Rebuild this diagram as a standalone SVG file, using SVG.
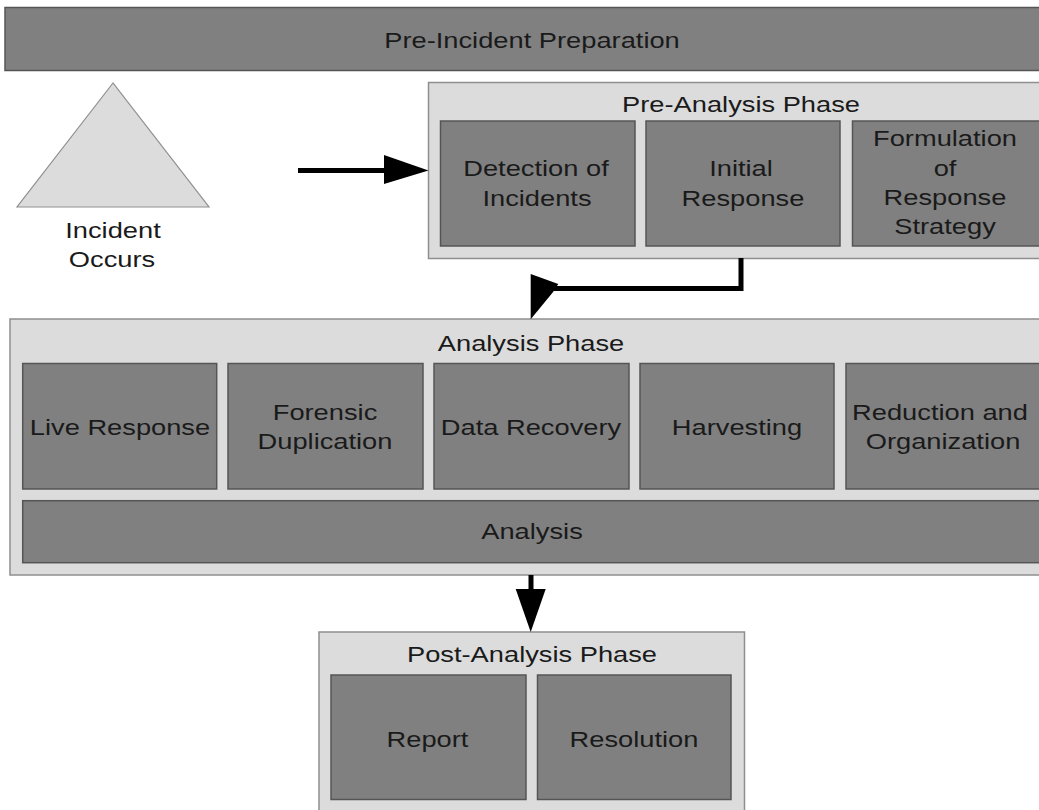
<svg xmlns="http://www.w3.org/2000/svg" width="1039" height="810" viewBox="0 0 1039 810">
  <style>
    .dark { fill: #808080; stroke: #555555; stroke-width: 1.5; }
    .light { fill: #dcdcdc; stroke: #8f8f8f; stroke-width: 1.5; }
    .t { font-family: "Liberation Sans", Arial, sans-serif; font-size: 22px; fill: #1a1a1a; text-anchor: middle; }
    .wire { fill: none; stroke: #000000; stroke-width: 5; stroke-linejoin: miter; }
    .head { fill: #000000; stroke: none; }
  </style>
  <rect width="1039" height="810" fill="#ffffff"/>

  <!-- top band -->
  <g id="pre-incident-preparation">
    <rect class="dark" x="5" y="7.5" width="1060" height="63"/>
    <text class="t" transform="translate(532,48) scale(1.24,1)">Pre-Incident Preparation</text>
  </g>

  <!-- incident marker -->
  <g id="incident-occurs">
    <polygon points="113,83 17,207 209,207" fill="#dcdcdc" stroke="#8f8f8f" stroke-width="1.2"/>
    <text class="t" transform="translate(113,238) scale(1.24,1)">Incident</text>
    <text class="t" transform="translate(112,267) scale(1.24,1)">Occurs</text>
  </g>

  <!-- pre-analysis phase -->
  <g id="pre-analysis-phase">
    <rect class="light" x="428.5" y="82.5" width="650" height="176"/>
    <text class="t" transform="translate(741,112) scale(1.24,1)">Pre-Analysis Phase</text>
  </g>
  <g id="detection-of-incidents">
    <rect class="dark" x="440.5" y="121" width="194.5" height="125"/>
    <text class="t" transform="translate(536,176) scale(1.24,1)">Detection of</text>
    <text class="t" transform="translate(537,206) scale(1.24,1)">Incidents</text>
  </g>
  <g id="initial-response">
    <rect class="dark" x="646" y="121" width="194" height="125"/>
    <text class="t" transform="translate(741,176) scale(1.24,1)">Initial</text>
    <text class="t" transform="translate(743,206) scale(1.24,1)">Response</text>
  </g>
  <g id="formulation-of-response-strategy">
    <rect class="dark" x="852.5" y="121" width="200" height="125"/>
    <text class="t" transform="translate(945,146) scale(1.24,1)">Formulation</text>
    <text class="t" transform="translate(945,175.5) scale(1.24,1)">of</text>
    <text class="t" transform="translate(945,205) scale(1.24,1)">Response</text>
    <text class="t" transform="translate(945,234) scale(1.24,1)">Strategy</text>
  </g>

  <!-- analysis phase -->
  <g id="analysis-phase">
    <rect class="light" x="10" y="319" width="1060" height="256"/>
    <text class="t" transform="translate(531,351) scale(1.24,1)">Analysis Phase</text>
  </g>
  <g id="live-response">
    <rect class="dark" x="22.7" y="363.5" width="194" height="125.5"/>
    <text class="t" transform="translate(120,435) scale(1.24,1)">Live Response</text>
  </g>
  <g id="forensic-duplication">
    <rect class="dark" x="228" y="363.5" width="195" height="125.5"/>
    <text class="t" transform="translate(325,420) scale(1.24,1)">Forensic</text>
    <text class="t" transform="translate(325,449) scale(1.24,1)">Duplication</text>
  </g>
  <g id="data-recovery">
    <rect class="dark" x="434" y="363.5" width="195" height="125.5"/>
    <text class="t" transform="translate(531,435) scale(1.24,1)">Data Recovery</text>
  </g>
  <g id="harvesting">
    <rect class="dark" x="640" y="363.5" width="194" height="125.5"/>
    <text class="t" transform="translate(737,435) scale(1.24,1)">Harvesting</text>
  </g>
  <g id="reduction-and-organization">
    <rect class="dark" x="846" y="363.5" width="210" height="125.5"/>
    <text class="t" transform="translate(940,420) scale(1.24,1)">Reduction and</text>
    <text class="t" transform="translate(943,449) scale(1.24,1)">Organization</text>
  </g>
  <g id="analysis">
    <rect class="dark" x="22.7" y="500.7" width="1040" height="62"/>
    <text class="t" transform="translate(532,539) scale(1.24,1)">Analysis</text>
  </g>

  <!-- post-analysis phase -->
  <g id="post-analysis-phase">
    <rect class="light" x="319" y="632" width="425.5" height="190"/>
    <text class="t" transform="translate(532,662) scale(1.24,1)">Post-Analysis Phase</text>
  </g>
  <g id="report">
    <rect class="dark" x="331" y="675" width="195" height="124.5"/>
    <text class="t" transform="translate(427.5,747) scale(1.24,1)">Report</text>
  </g>
  <g id="resolution">
    <rect class="dark" x="537.5" y="675" width="193.5" height="124.5"/>
    <text class="t" transform="translate(634,747) scale(1.24,1)">Resolution</text>
  </g>

  <!-- connectors -->
  <g id="connectors">
    <line class="wire" x1="298" y1="170.5" x2="386" y2="170.5"/>
    <polygon class="head" points="384,155 428.5,170.5 384,184"/>

    <polyline class="wire" points="741,258 741,288.5 553,288.5"/>
    <polygon class="head" points="530.7,274 558.3,284 553.3,291.7 530.7,319.3"/>

    <line class="wire" x1="531" y1="575" x2="531" y2="591" stroke-width="5.5"/>
    <polygon class="head" points="515.7,589 545.7,589 530.7,632"/>
  </g>
</svg>
